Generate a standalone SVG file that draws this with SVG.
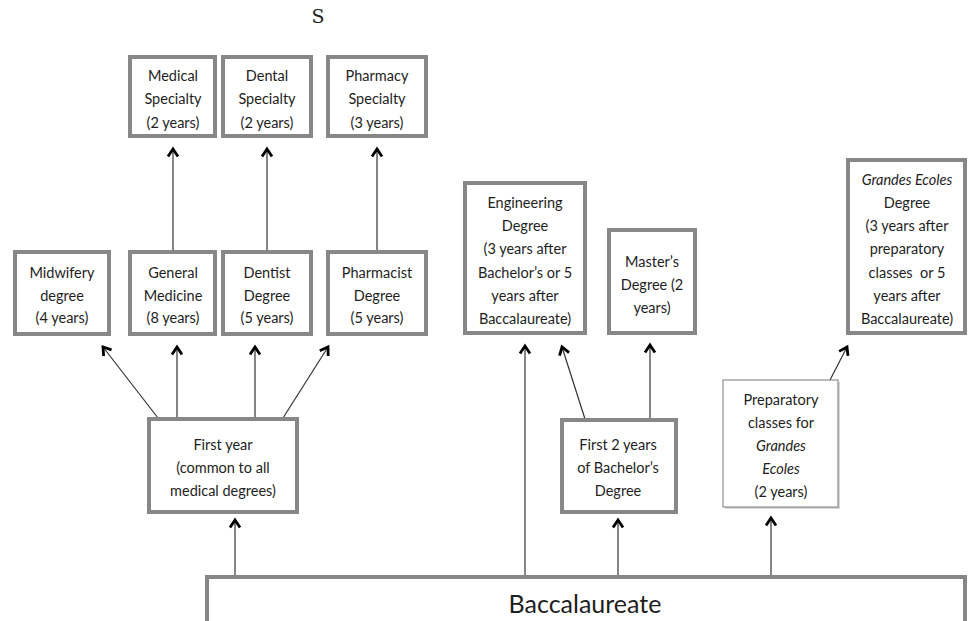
<svg xmlns="http://www.w3.org/2000/svg" width="968" height="621" viewBox="0 0 968 621">
<style>
.box{fill:#fff;stroke:#878787;stroke-width:4}
.thin{fill:#fff;stroke:#7a7a7a;stroke-width:1}
.t{font-family:Lato,"Liberation Sans",sans-serif;font-size:14.5px;fill:#1e1e1e;text-anchor:middle}
.i{font-style:italic}
.c{stroke:#333;stroke-width:1.2;fill:none;marker-end:url(#ah)}
</style>
<defs>
<marker id="ah" markerUnits="userSpaceOnUse" markerWidth="20" markerHeight="20" refX="10" refY="10" viewBox="0 0 20 20" orient="auto" overflow="visible">
<path d="M2.5,5 L10,10 L2.5,15" fill="none" stroke="#000" stroke-width="2.8" stroke-linejoin="miter"/>
</marker>
</defs>
<rect width="968" height="621" fill="#fff"/>
<text x="318" y="23" font-family="'DejaVu Serif','Liberation Serif',serif" font-size="19" fill="#222" text-anchor="middle">S</text>

<g id="connectors">
<line class="c" x1="173" y1="252" x2="173" y2="149"/>
<line class="c" x1="267" y1="252" x2="267" y2="149"/>
<line class="c" x1="377" y1="252" x2="377" y2="149"/>
<line class="c" x1="158" y1="418" x2="103" y2="347"/>
<line class="c" x1="177" y1="418" x2="177" y2="347"/>
<line class="c" x1="255" y1="418" x2="255" y2="347"/>
<line class="c" x1="283" y1="418" x2="328" y2="347"/>
<line class="c" x1="235" y1="576" x2="235" y2="520"/>
<line class="c" x1="525" y1="576" x2="525" y2="346"/>
<line class="c" x1="585" y1="419" x2="562" y2="347"/>
<line class="c" x1="650" y1="419" x2="650" y2="345"/>
<line class="c" x1="618" y1="576" x2="618" y2="520"/>
<line class="c" x1="771" y1="576" x2="771" y2="518"/>
<line class="c" x1="830" y1="380" x2="847" y2="347"/>
</g>

<g id="medical-specialty"><rect class="box" x="130" y="57" width="85" height="79"/>
<text class="t" x="173" y="81">Medical</text><text class="t" x="173" y="104">Specialty</text><text class="t" x="173" y="128">(2 years)</text></g>
<g id="dental-specialty"><rect class="box" x="223" y="57" width="88" height="79"/>
<text class="t" x="267" y="81">Dental</text><text class="t" x="267" y="104">Specialty</text><text class="t" x="267" y="128">(2 years)</text></g>
<g id="pharmacy-specialty"><rect class="box" x="328" y="57" width="98" height="79"/>
<text class="t" x="377" y="81">Pharmacy</text><text class="t" x="377" y="104">Specialty</text><text class="t" x="377" y="128">(3 years)</text></g>

<g id="midwifery"><rect class="box" x="15" y="252" width="94" height="82"/>
<text class="t" x="62" y="278">Midwifery</text><text class="t" x="62" y="301">degree</text><text class="t" x="62" y="323">(4 years)</text></g>
<g id="general-medicine"><rect class="box" x="130" y="252" width="85" height="82"/>
<text class="t" x="173" y="278">General</text><text class="t" x="173" y="301">Medicine</text><text class="t" x="173" y="323">(8 years)</text></g>
<g id="dentist"><rect class="box" x="223" y="252" width="88" height="82"/>
<text class="t" x="267" y="278">Dentist</text><text class="t" x="267" y="301">Degree</text><text class="t" x="267" y="323">(5 years)</text></g>
<g id="pharmacist"><rect class="box" x="328" y="252" width="98" height="82"/>
<text class="t" x="377" y="278">Pharmacist</text><text class="t" x="377" y="301">Degree</text><text class="t" x="377" y="323">(5 years)</text></g>

<g id="first-year"><rect class="box" x="149" y="419" width="148" height="93"/>
<text class="t" x="223" y="450">First year</text><text class="t" x="223" y="473">(common to all</text><text class="t" x="223" y="496">medical degrees)</text></g>

<g id="engineering"><rect class="box" x="465" y="183" width="120" height="150"/>
<text class="t" x="525" y="208">Engineering</text><text class="t" x="525" y="231">Degree</text><text class="t" x="525" y="254">(3 years after</text><text class="t" x="525" y="278">Bachelor’s or 5</text><text class="t" x="525" y="301">years after</text><text class="t" x="525" y="324">Baccalaureate)</text></g>

<g id="masters"><rect class="box" x="609" y="230" width="86" height="103"/>
<text class="t" x="652" y="267">Master’s</text><text class="t" x="652" y="290">Degree (2</text><text class="t" x="652" y="313">years)</text></g>

<g id="grandes-ecoles"><rect class="box" x="848" y="160" width="117" height="173"/>
<text class="t i" x="907" y="185">Grandes Ecoles</text><text class="t" x="907" y="208">Degree</text><text class="t" x="907" y="231">(3 years after</text><text class="t" x="907" y="254">preparatory</text><text class="t" x="907" y="278" xml:space="preserve">classes  or 5</text><text class="t" x="907" y="301">years after</text><text class="t" x="907" y="324">Baccalaureate)</text></g>

<g id="first-2-years"><rect class="box" x="562" y="420" width="114" height="92"/>
<text class="t" x="618" y="450">First 2 years</text><text class="t" x="618" y="473">of Bachelor’s</text><text class="t" x="618" y="496">Degree</text></g>

<g id="preparatory"><rect x="725" y="382" width="115" height="127" fill="#bbb" opacity="0.6"/><rect class="thin" x="723" y="380" width="115" height="127"/>
<text class="t" x="781" y="405">Preparatory</text><text class="t" x="781" y="428">classes for</text><text class="t i" x="781" y="451">Grandes</text><text class="t i" x="781" y="474">Ecoles</text><text class="t" x="781" y="497">(2 years)</text></g>

<g id="baccalaureate"><rect class="box" x="207" y="577" width="758" height="60"/>
<text class="t" x="585" y="613" style="font-size:25px">Baccalaureate</text></g>
</svg>
